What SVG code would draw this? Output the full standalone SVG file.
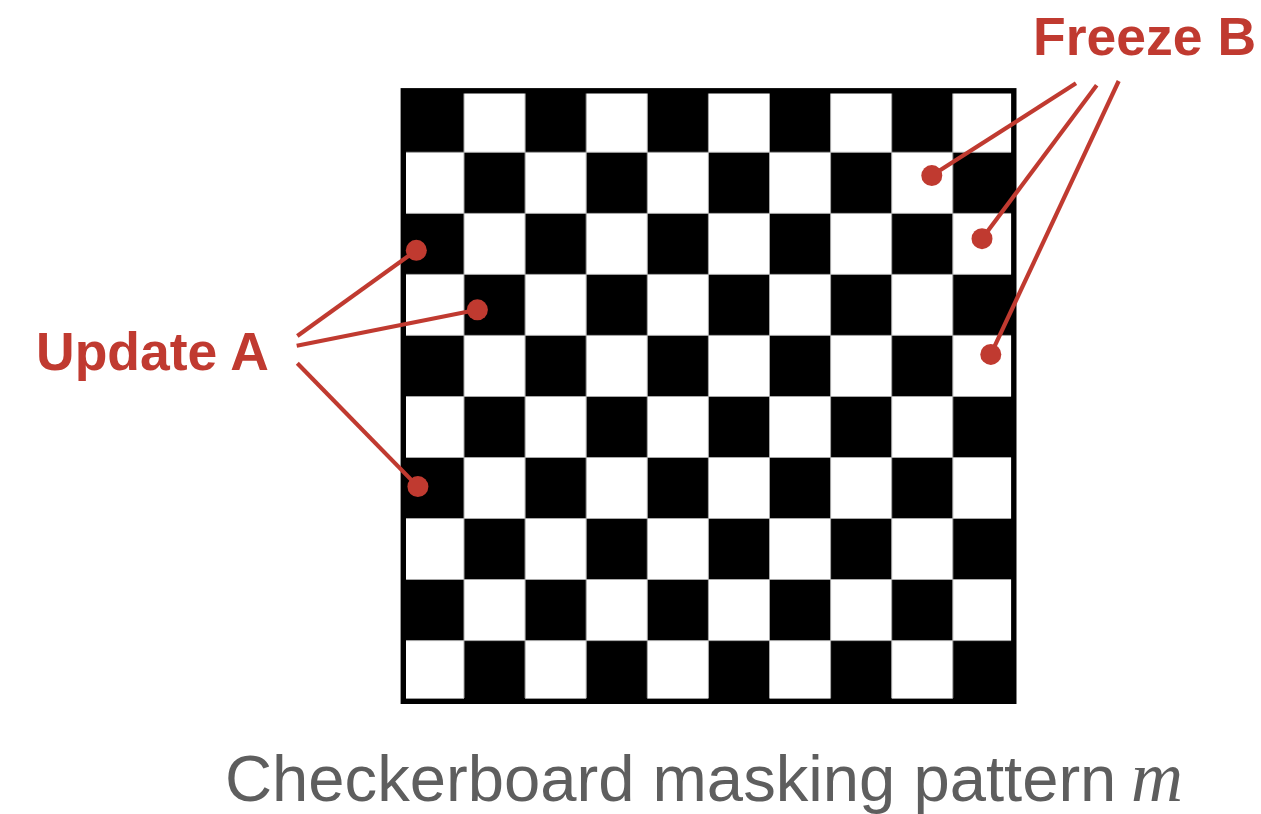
<svg xmlns="http://www.w3.org/2000/svg" width="1261" height="814" viewBox="0 0 1261 814">
  <style>
    .blk { fill: #000; }
    .grid { stroke: #a8a8a8; stroke-width: 1; fill: none; }
    .frame { fill: none; stroke: #000; stroke-width: 5.4; }
    .lbl { font-family: "Liberation Sans", Arial, Helvetica, sans-serif; font-weight: bold; font-size: 53.5px; fill: #c03a30; }
    .cap { font-family: "Liberation Sans", Arial, Helvetica, sans-serif; font-size: 65.2px; fill: #5e5e5e; }
    .math { font-family: "Liberation Serif", "Times New Roman", serif; font-style: italic; font-size: 72px; fill: #5e5e5e; }
    .lead { stroke: #c03a30; stroke-width: 4.2; fill: none; }
    .dot { fill: #c03a30; }
  </style>
  <defs>
    <rect id="c" width="61.1" height="61.05" class="blk"/>
  </defs>
  <rect width="1261" height="814" fill="#fff"/>
  <g id="board">
    <rect x="402.9" y="91.3" width="611" height="610.3" fill="#fff"/>
    <use href="#c" x="402.9" y="91.3"/><use href="#c" x="525.1" y="91.3"/><use href="#c" x="647.3" y="91.3"/><use href="#c" x="769.5" y="91.3"/><use href="#c" x="891.7" y="91.3"/>
    <use href="#c" x="464.0" y="152.3"/><use href="#c" x="586.2" y="152.3"/><use href="#c" x="708.4" y="152.3"/><use href="#c" x="830.6" y="152.3"/><use href="#c" x="952.8" y="152.3"/>
    <use href="#c" x="402.9" y="213.4"/><use href="#c" x="525.1" y="213.4"/><use href="#c" x="647.3" y="213.4"/><use href="#c" x="769.5" y="213.4"/><use href="#c" x="891.7" y="213.4"/>
    <use href="#c" x="464.0" y="274.4"/><use href="#c" x="586.2" y="274.4"/><use href="#c" x="708.4" y="274.4"/><use href="#c" x="830.6" y="274.4"/><use href="#c" x="952.8" y="274.4"/>
    <use href="#c" x="402.9" y="335.4"/><use href="#c" x="525.1" y="335.4"/><use href="#c" x="647.3" y="335.4"/><use href="#c" x="769.5" y="335.4"/><use href="#c" x="891.7" y="335.4"/>
    <use href="#c" x="464.0" y="396.5"/><use href="#c" x="586.2" y="396.5"/><use href="#c" x="708.4" y="396.5"/><use href="#c" x="830.6" y="396.5"/><use href="#c" x="952.8" y="396.5"/>
    <use href="#c" x="402.9" y="457.5"/><use href="#c" x="525.1" y="457.5"/><use href="#c" x="647.3" y="457.5"/><use href="#c" x="769.5" y="457.5"/><use href="#c" x="891.7" y="457.5"/>
    <use href="#c" x="464.0" y="518.5"/><use href="#c" x="586.2" y="518.5"/><use href="#c" x="708.4" y="518.5"/><use href="#c" x="830.6" y="518.5"/><use href="#c" x="952.8" y="518.5"/>
    <use href="#c" x="402.9" y="579.5"/><use href="#c" x="525.1" y="579.5"/><use href="#c" x="647.3" y="579.5"/><use href="#c" x="769.5" y="579.5"/><use href="#c" x="891.7" y="579.5"/>
    <use href="#c" x="464.0" y="640.6"/><use href="#c" x="586.2" y="640.6"/><use href="#c" x="708.4" y="640.6"/><use href="#c" x="830.6" y="640.6"/><use href="#c" x="952.8" y="640.6"/>
    <path class="grid" d="M464 93V698M525.1 93V698M586.2 93V698M647.3 93V698M708.4 93V698M769.5 93V698M830.6 93V698M891.7 93V698M952.8 93V698
      M406 152.3H1011M406 213.4H1011M406 274.4H1011M406 335.4H1011M406 396.5H1011M406 457.5H1011M406 518.5H1011M406 579.5H1011M406 640.6H1011"/>
    <rect class="frame" x="403.3" y="90.8" width="610.5" height="610.5"/>
  </g>
  <g id="connectors">
    <line class="lead" x1="297.3" y1="336" x2="416.3" y2="250.3"/>
    <line class="lead" x1="296.7" y1="345.7" x2="477.4" y2="309.8"/>
    <line class="lead" x1="297.3" y1="363.3" x2="417.9" y2="486.6"/>
    <line class="lead" x1="1076" y1="83.3" x2="931.8" y2="175.6"/>
    <line class="lead" x1="1096.7" y1="85.3" x2="982" y2="238.7"/>
    <line class="lead" x1="1118.7" y1="81" x2="990.8" y2="354.4"/>
    <circle class="dot" cx="416.3" cy="250.3" r="10.5"/>
    <circle class="dot" cx="477.4" cy="309.8" r="10.5"/>
    <circle class="dot" cx="417.9" cy="486.6" r="10.5"/>
    <circle class="dot" cx="931.8" cy="175.6" r="10.5"/>
    <circle class="dot" cx="982" cy="238.7" r="10.5"/>
    <circle class="dot" cx="990.8" cy="354.4" r="10.5"/>
  </g>
  <g id="update-a">
    <text class="lbl" x="36" y="370">Update A</text>
  </g>
  <g id="freeze-b">
    <text class="lbl" x="1033" y="55">Freeze B</text>
  </g>
  <g id="caption">
    <text class="cap" x="225" y="800.5">Checkerboard masking pattern</text>
    <text class="math" x="1131" y="800.5">m</text>
  </g>
</svg>
